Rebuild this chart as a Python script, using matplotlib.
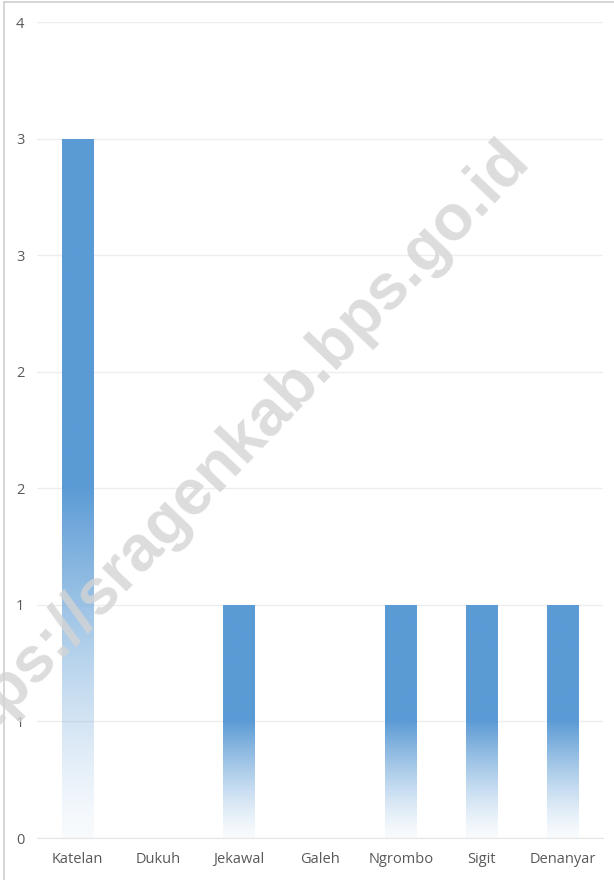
import numpy as np
import matplotlib.pyplot as plt
from matplotlib.colors import to_rgb

# Data
categories = ["Katelan", "Dukuh", "Jekawal", "Galeh", "Ngrombo", "Sigit", "Denanyar"]
values = [3, 0, 1, 0, 1, 1, 1]
yticks = [0, 0.5, 1, 1.5, 2, 2.5, 3, 3.5]
ytick_labels = ["0", "1", "1", "2", "2", "3", "3", "4"]

bar_color = "#5B9BD5"
text_color = "#595959"

plt.rcParams['font.family'] = ['Open Sans', 'DejaVu Sans']

fig = plt.figure(figsize=(6.14, 8.8), dpi=100)
ax = fig.add_axes([37/614, 42/880, 566/614, 816/880])

x = np.arange(len(categories))
bars = ax.bar(x, values, width=0.39, color="none", edgecolor="none", zorder=2)

# gradient fill: solid in upper half, fading to white at bottom
rgb = np.array(to_rgb(bar_color))
n = 256
t = np.linspace(0, 1, n)  # 0 = bottom, 1 = top
alpha = np.clip(t / 0.5, 0, 1) ** 1.3
alpha = 0.04 + 0.96 * alpha
img = np.ones((n, 1, 4))
img[:, 0, :3] = rgb
img[:, 0, 3] = alpha
for b in bars:
    h = b.get_height()
    if h <= 0:
        continue
    x0 = b.get_x()
    w = b.get_width()
    im = ax.imshow(img, extent=[x0, x0 + w, 0, h], origin="lower",
                   aspect="auto", zorder=2, interpolation="bilinear")
    im.set_clip_path(b)

ax.set_xlim(-0.5, len(categories) - 0.5)
ax.set_ylim(0, 3.5)
ax.set_yticks(yticks)
ax.set_yticklabels(ytick_labels)
ax.set_xticks(x)
ax.set_xticklabels(categories)
ax.tick_params(axis="both", length=0, colors=text_color, labelsize=10.5)
ax.tick_params(axis="y", pad=9)
ax.tick_params(axis="x", pad=10)
ax.grid(axis="y", color="#eeeeee", linewidth=1, zorder=0)
ax.set_axisbelow(True)
for s in ax.spines.values():
    s.set_visible(False)
ax.spines["bottom"].set_visible(True)
ax.spines["bottom"].set_color("#e6e6e6")

# watermark
fig.text(0.372, 0.483, "https://sragenkab.bps.go.id", fontsize=46.5, fontweight="bold",
         color="#d4d4d4", alpha=0.8, rotation=46.5, ha="center", va="center",
         family="Liberation Sans", zorder=10)

# outer border (top and left visible)
fig.add_artist(plt.Line2D([4/614, 1], [1 - 2/880, 1 - 2/880], color="#d0d0d0", lw=1.2,
                          transform=fig.transFigure))
fig.add_artist(plt.Line2D([4/614, 4/614], [0, 1 - 2/880], color="#d0d0d0", lw=1.2,
                          transform=fig.transFigure))

fig.savefig("out.png", dpi=100)
